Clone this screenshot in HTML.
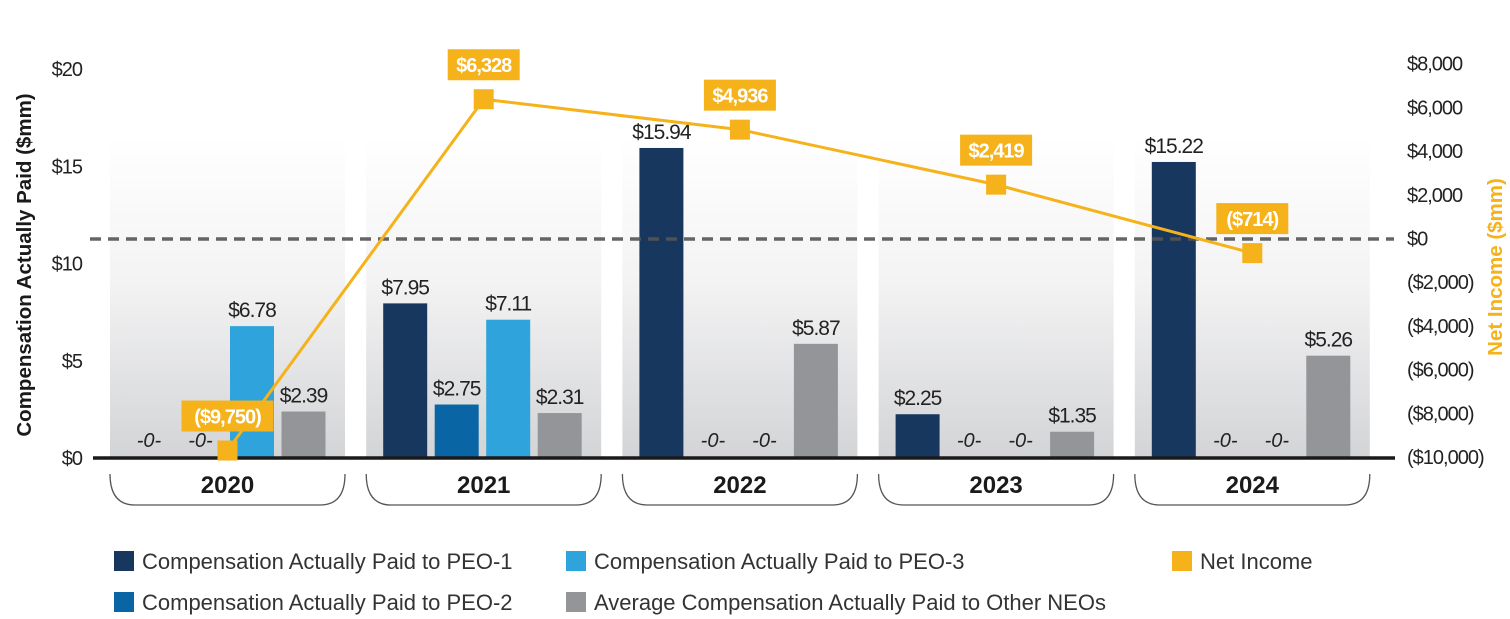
<!DOCTYPE html>
<html><head><meta charset="utf-8">
<style>
body{margin:0;background:#fff;}
svg{display:block;font-family:"Liberation Sans Narrow","Liberation Sans",sans-serif;}
.lg{font-family:"Liberation Sans",sans-serif;font-size:22px;fill:#333;}
</style></head>
<body>
<svg id="chart" width="1510" height="619" viewBox="0 0 1510 619">
<defs>
<linearGradient id="pg" x1="0" y1="0" x2="0" y2="1">
<stop offset="0" stop-color="#ffffff"/>
<stop offset="0.45" stop-color="#f3f3f4"/>
<stop offset="1" stop-color="#d3d4d6"/>
</linearGradient>
</defs>
<g id="panels"></g>
<g id="bars"></g>
<g id="axes"></g>
<g id="line"></g>
<g id="legend"></g>
</svg>
<script>
const years = ["2020","2021","2022","2023","2024"];
const peo1 = [0, 7.95, 15.94, 2.25, 15.22];
const peo2 = [0, 2.75, 0, 0, 0];
const peo3 = [6.78, 7.11, 0, 0, 0];
const otherNeos = [2.39, 2.31, 5.87, 1.35, 5.26];
const netIncome = [-9750, 6328, 4936, 2419, -714];
const leftTicks = [0, 5, 10, 15, 20];
const rightTicks = [8000, 6000, 4000, 2000, 0, -2000, -4000, -6000, -8000, -10000];

const NS = "http://www.w3.org/2000/svg";
function mk(tag, attrs, parent, text){
  const e = document.createElementNS(NS, tag);
  for (const k in attrs) e.setAttribute(k, attrs[k]);
  if (text !== undefined) e.textContent = text;
  parent.appendChild(e);
  return e;
}
const yL = v => 458 - v * 19.45;
const yR = v => 237.5 - v * 0.02185;
const panelX = i => 110 + i * 256.2;
const panelW = 235;
const slotX = (i, s) => panelX(i) + 17 + s * 51.5;
const barW = 44;
const fmtL = v => "$" + v.toFixed(2);
const fmtR = v => v < 0 ? "($" + Math.abs(v).toLocaleString("en-US") + ")" : "$" + v.toLocaleString("en-US");

const gP = document.getElementById('panels');
const gB = document.getElementById('bars');
const gA = document.getElementById('axes');
const gLn = document.getElementById('line');
const gLg = document.getElementById('legend');

const series = [peo1, peo2, peo3, otherNeos];
const colors = ["#17375e", "#0a65a5", "#2fa3dc", "#939598"];
const sNames = ["peo1", "peo2", "peo3", "other-neos"];

years.forEach((yr, i) => {
  const p = mk('rect', {x: panelX(i), y: 137, width: panelW, height: 321, fill: 'url(#pg)'}, gP);
  
  
  series.forEach((arr, s) => {
    const v = arr[i];
    const cx = slotX(i, s) + barW / 2;
    if (v > 0) {
      const r = mk('rect', {x: slotX(i, s), y: yL(v), width: barW, height: 458 - yL(v), fill: colors[s]}, gB);
      
      
      const t = mk('text', {x: cx, y: yL(v) - 9, 'text-anchor': 'middle', 'font-size': 21, 'letter-spacing': -1, fill: '#222'}, gB, fmtL(v));
      
      
    } else {
      const t = mk('text', {x: cx, y: 447, 'text-anchor': 'middle', 'font-size': 20, 'font-style': 'italic', fill: '#222'}, gB, '-0-');
      
      
    }
  });
  const x0 = panelX(i), x1 = panelX(i) + panelW;
  const br = mk('path', {d: `M${x0},474 Q${x0},505 ${x0+25},505 L${x1-25},505 Q${x1},505 ${x1},474`, fill: 'none', stroke: '#555', 'stroke-width': 1.3}, gA);
  
  
  const yt = mk('text', {x: x0 + panelW / 2, y: 493, 'text-anchor': 'middle', 'font-size': 24, 'font-weight': 'bold', 'font-family': '"Liberation Sans",sans-serif', fill: '#1a1a1a'}, gA, yr);
  
  
});

const base = mk('line', {x1: 93, y1: 458, x2: 1395, y2: 458, stroke: '#1a1a1a', 'stroke-width': 3.5}, gA);


const zl = mk('line', {x1: 90, y1: 239, x2: 1394, y2: 239, stroke: '#555', 'stroke-width': 3.5, 'stroke-dasharray': '11 7', opacity: 0.9}, gA);


leftTicks.forEach(v => {
  const t = mk('text', {x: 82, y: yL(v) + 7, 'text-anchor': 'end', 'font-size': 20, 'letter-spacing': -1, fill: '#222'}, gA, '$' + v);
  
  
});
rightTicks.forEach(v => {
  const t = mk('text', {x: 1407, y: yR(v) + 8, 'text-anchor': 'start', 'font-size': 20, 'letter-spacing': -1, fill: '#222'}, gA, fmtR(v));
  
  
});
const lt = mk('text', {x: 0, y: 0, transform: 'translate(31,265) rotate(-90)', 'text-anchor': 'middle', 'font-size': 20.5, 'font-weight': 'bold', 'font-family': '"Liberation Sans",sans-serif', fill: '#1a1a1a'}, gA, 'Compensation Actually Paid ($mm)');


const rt = mk('text', {x: 0, y: 0, transform: 'translate(1502,267) rotate(-90)', 'text-anchor': 'middle', 'font-size': 20.5, 'font-weight': 'bold', 'font-family': '"Liberation Sans",sans-serif', fill: '#f5b21a'}, gA, 'Net Income ($mm)');



const pts = netIncome.map((v, i) => [panelX(i) + panelW / 2, yR(v)]);
const pl = mk('polyline', {points: pts.map(p => p.join(',')).join(' '), fill: 'none', stroke: '#f5b21a', 'stroke-width': 3}, gLn);


pts.forEach((p, i) => {
  const m = mk('rect', {x: p[0] - 10, y: p[1] - 10, width: 20, height: 20, fill: '#f5b21a'}, gLn);
  
  
  const label = fmtR(netIncome[i]);
  const w = label.length * 10 + 12;
  const by = p[1] - 50;
  const b = mk('rect', {x: p[0] - w / 2, y: by, width: w, height: 31, fill: '#f5b21a'}, gLn);
  
  
  const t = mk('text', {x: p[0], y: by + 23, 'text-anchor': 'middle', 'font-size': 20, 'font-weight': 'bold', 'letter-spacing': -1, fill: '#fff'}, gLn, label);
  
  
});

const legendItems = [
  [114, 551, colors[0], 'Compensation Actually Paid to PEO-1', 'legend-entry-peo1'],
  [114, 592, colors[1], 'Compensation Actually Paid to PEO-2', 'legend-entry-peo2'],
  [566, 551, colors[2], 'Compensation Actually Paid to PEO-3', 'legend-entry-peo3'],
  [566, 592, colors[3], 'Average Compensation Actually Paid to Other NEOs', 'legend-entry-other-neos'],
  [1172, 551, '#f5b21a', 'Net Income', 'legend-entry-net-income']
];
legendItems.forEach(it => {
  const g = mk('g', {}, gLg);
  
  
  mk('rect', {x: it[0], y: it[1], width: 20, height: 20, fill: it[2]}, g);
  mk('text', {x: it[0] + 28, y: it[1] + 18, class: 'lg'}, g, it[3]);
});
</script>
</body></html>
